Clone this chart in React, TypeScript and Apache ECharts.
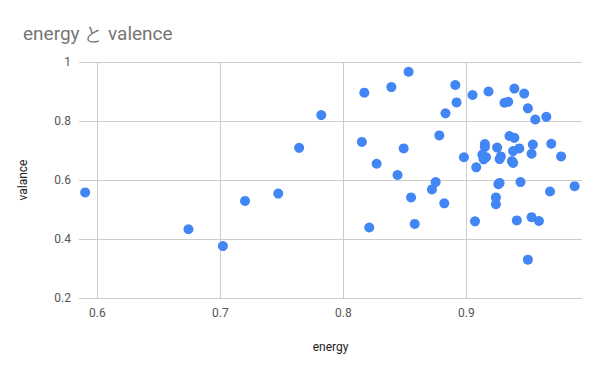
import React, { useEffect, useRef } from "react";
import * as echarts from "echarts";

const energy: number[] = [
  0.590, 0.674, 0.702, 0.720, 0.747, 0.764, 0.782, 0.817, 0.839, 0.853,
  0.891, 0.892, 0.883, 0.815, 0.849, 0.878, 0.827, 0.844, 0.875, 0.872,
  0.855, 0.882, 0.821, 0.858, 0.905, 0.918, 0.939, 0.947, 0.931, 0.934,
  0.950, 0.956, 0.965, 0.935, 0.939, 0.915, 0.915, 0.925, 0.954, 0.969,
  0.943, 0.938, 0.953, 0.977, 0.898, 0.913, 0.916, 0.914, 0.927, 0.928,
  0.937, 0.938, 0.908, 0.926, 0.927, 0.944, 0.968, 0.988, 0.924, 0.924,
  0.907, 0.941, 0.953, 0.959, 0.950,
];
const valence: number[] = [
  0.558, 0.433, 0.376, 0.529, 0.554, 0.709, 0.820, 0.896, 0.915, 0.967,
  0.922, 0.863, 0.826, 0.729, 0.707, 0.751, 0.655, 0.617, 0.593, 0.568,
  0.541, 0.521, 0.439, 0.451, 0.888, 0.900, 0.910, 0.893, 0.862, 0.865,
  0.843, 0.805, 0.814, 0.749, 0.743, 0.722, 0.712, 0.710, 0.720, 0.723,
  0.707, 0.698, 0.689, 0.680, 0.677, 0.686, 0.677, 0.670, 0.671, 0.680,
  0.664, 0.658, 0.643, 0.586, 0.590, 0.593, 0.561, 0.579, 0.541, 0.518,
  0.460, 0.463, 0.474, 0.461, 0.330,
];
const xTicks: number[] = [0.6, 0.7, 0.8, 0.9];
const titleText = "energy と valence";
const xName = "energy";
const yName = "valance";

export default function App() {
  const ref = useRef<HTMLDivElement>(null);
  useEffect(() => {
    if (!ref.current) return;
    const chart = echarts.init(ref.current, null, { renderer: "svg" });
    const data = energy.map((e, i) => [e, valence[i]]);
    chart.setOption({
      animation: false,
      textStyle: { fontFamily: "Roboto, Arial, sans-serif" },
      title: {
        text: titleText,
        left: 18,
        top: 19,
        textStyle: { fontSize: 19, fontWeight: "normal", color: "#757575", fontFamily: "Roboto, Arial, sans-serif" },
      },
      grid: { left: 79, right: 18, top: 62, bottom: 73 },
      xAxis: {
        type: "value",
        min: 0.585,
        max: 0.994,
        name: xName,
        nameLocation: "middle",
        nameGap: 43,
        nameTextStyle: { color: "#222", fontSize: 12 },
        axisLine: { show: false },
        axisTick: { show: false, customValues: xTicks },
        axisLabel: { customValues: xTicks, color: "#555", fontSize: 12, margin: 9, formatter: (v: number) => String(Math.round(v * 10) / 10) },
        splitLine: { show: true, lineStyle: { color: "#cccccc", width: 1 } },
      },
      yAxis: {
        type: "value",
        min: 0.2,
        max: 1,
        interval: 0.2,
        name: yName,
        nameLocation: "middle",
        nameGap: 50,
        nameTextStyle: { color: "#222", fontSize: 12 },
        axisLine: { show: false },
        axisTick: { show: false },
        axisLabel: { color: "#555", fontSize: 12, margin: 8, formatter: (v: number) => String(Math.round(v * 10) / 10) },
        splitLine: { show: true, lineStyle: { color: "#cccccc", width: 1 } },
      },
      series: [
        {
          type: "scatter",
          data,
          symbol: "circle",
          symbolSize: 10,
          itemStyle: { color: "#4285F4", opacity: 1 },
        },
      ],
    });
    return () => chart.dispose();
  }, []);
  return <div ref={ref} style={{ width: 600, height: 371, position: "absolute", left: 0, top: 0 }} />;
}
